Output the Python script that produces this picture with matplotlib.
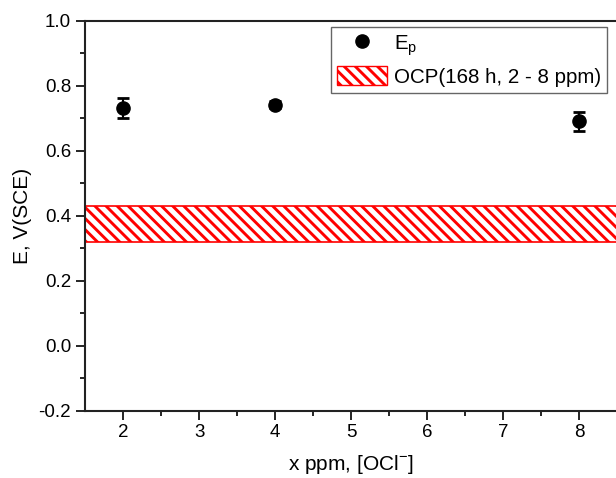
import matplotlib.pyplot as plt
from matplotlib.lines import Line2D
from matplotlib.patches import Patch

plt.rcParams['font.family'] = ['Liberation Sans', 'DejaVu Sans']
plt.rcParams['mathtext.fontset'] = 'custom'
plt.rcParams['mathtext.rm'] = 'Liberation Sans'
plt.rcParams['hatch.linewidth'] = 2.1
plt.rcParams['hatch.color'] = 'red'

# data
ppm = [2, 4, 8]
ep = [0.731, 0.741, 0.690]
ep_err = [0.032, 0.010, 0.030]
ocp_low, ocp_high = 0.32, 0.43

fig = plt.figure(figsize=(6.16, 4.78), dpi=100)
ax = fig.add_axes([0.138, 0.141, 0.864, 0.816])

ax.axhspan(ocp_low, ocp_high, facecolor='white', edgecolor='red', hatch='\\\\\\', linewidth=1.2)
ax.errorbar(ppm, ep, yerr=ep_err, fmt='o', color='black', markersize=9.5,
            capsize=4.5, capthick=2, elinewidth=1.5, zorder=3)

ax.set_xlim(1.5, 8.5)
ax.set_ylim(-0.2, 1.0)
ax.set_xticks(range(2, 9))
ax.set_xticks([2.5, 3.5, 4.5, 5.5, 6.5, 7.5], minor=True)
ax.set_yticks([-0.2, 0.0, 0.2, 0.4, 0.6, 0.8, 1.0])
ax.set_yticks([-0.1, 0.1, 0.3, 0.5, 0.7, 0.9], minor=True)
ax.set_yticklabels(['-0.2', '0.0', '0.2', '0.4', '0.6', '0.8', '1.0'])
ax.tick_params(which='major', direction='out', length=6.5, width=1.2, labelsize=13.5, colors='black')
ax.tick_params(which='minor', direction='out', length=3.5, width=1.2)
ax.tick_params(top=False, right=False, which='both')
for s in ax.spines.values():
    s.set_linewidth(1.5)
    s.set_color('#222222')

ax.set_xlabel(r'x ppm, [OCl$^{\mathregular{-}}$]', fontsize=15, labelpad=8)
ax.set_ylabel('E, V(SCE)', fontsize=15, labelpad=5)

handles = [Line2D([], [], marker='o', color='black', linestyle='none', markersize=9.5),
           Patch(facecolor='white', edgecolor='red', hatch='\\\\\\', linewidth=1)]
labels = [r'E$_\mathregular{p}$', 'OCP(168 h, 2 - 8 ppm)']
leg = ax.legend(handles, labels, loc='upper right', bbox_to_anchor=(0.981, 0.984),
                fontsize=14.8, fancybox=False, edgecolor='#666666', framealpha=1,
                borderpad=0.3, borderaxespad=0, handlelength=2.4, handleheight=1.05,
                handletextpad=0.35, labelspacing=0.4)
leg.get_frame().set_linewidth(1.0)

fig.savefig('out.png', dpi=100)
